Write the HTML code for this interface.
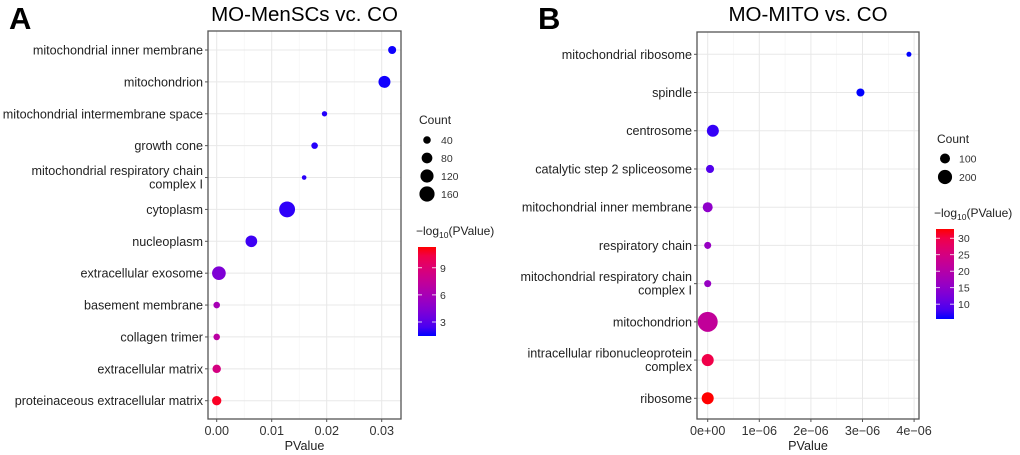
<!DOCTYPE html>
<html><head><meta charset="utf-8">
<style>
body{margin:0;background:#fff;}
svg{display:block;font-family:"Liberation Sans",Arial,sans-serif;}
</style></head>
<body>
<svg id="fig" width="1020" height="455" viewBox="0 0 1020 455"></svg>
<script>
// ---- Panel A data ----
const catsA = ["mitochondrial inner membrane","mitochondrion","mitochondrial intermembrane space","growth cone","mitochondrial respiratory chain|complex I","cytoplasm","nucleoplasm","extracellular exosome","basement membrane","collagen trimer","extracellular matrix","proteinaceous extracellular matrix"];
const pvalA = [0.0319,0.0305,0.0196,0.0178,0.0159,0.0128,0.0063,0.0004,0.0,0.0,0.0,0.0];
const countA = [45,100,20,30,15,175,95,130,30,30,50,60];
const logpA = [1.5,1.52,1.71,1.75,1.8,1.89,2.2,4.2,6,7,8.5,11];
const xTicksA = [0,0.01,0.02,0.03];
const xTickLabelsA = ["0.00","0.01","0.02","0.03"];
const countLegA = [40,80,120,160];
const cbTicksA = [3,6,9];
// ---- Panel B data ----
const catsB = ["mitochondrial ribosome","spindle","centrosome","catalytic step 2 spliceosome","mitochondrial inner membrane","respiratory chain","mitochondrial respiratory chain|complex I","mitochondrion","intracellular ribonucleoprotein|complex","ribosome"];
const pvalB = [3.9e-6,2.96e-6,1.0e-7,4.5e-8,0,0,0,0,0,0];
const countB = [25,65,145,65,100,50,50,400,145,145];
const logpB = [5.4,5.5,7,9,15,16,16,22,30,33];
const xTicksB = [0,1e-6,2e-6,3e-6,4e-6];
const xTickLabelsB = ["0e+00","1e\u221206","2e\u221206","3e\u221206","4e\u221206"];
const countLegB = [100,200];
const cbTicksB = [10,15,20,25,30];

const NS="http://www.w3.org/2000/svg";
const svg=document.getElementById('fig');
function mk(tag,attrs,parent,text){const e=document.createElementNS(NS,tag);for(const k in attrs)e.setAttribute(k,attrs[k]);if(text!==undefined)e.textContent=text;(parent||svg).appendChild(e);return e;}
function col(t){t=Math.max(0,Math.min(1,t));const r=Math.round(255*Math.pow(t,0.55)),b=Math.round(255*Math.pow(1-t,0.55));return `rgb(${r},0,${b})`;}

function panel(cfg){
  const g=mk('g',{});
  
  
  const L=cfg.box[0],T=cfg.box[1],R=cfg.box[2],B=cfg.box[3];
  const xs=v=>cfg.x0+(v)*cfg.xk;
  const n=cfg.cats.length;
  const ys=i=>cfg.y0+i*(cfg.y1-cfg.y0)/(n-1);
  const rs=c=>cfg.rk*Math.sqrt(c);
  const cs=v=>col((v-cfg.cmin)/(cfg.cmax-cfg.cmin));
  const lt=mk('text',{x:cfg.letterX,y:29,'font-size':31,'font-weight':'bold'},g,cfg.letter);
  
  const tt=mk('text',{x:(L+R)/2,y:21,'font-size':20.5,'text-anchor':'middle'},g,cfg.title);
  
  for(let i=0;i<cfg.ticks.length;i++){
    const x=xs(cfg.ticks[i]);
    mk('line',{x1:x,x2:x,y1:T,y2:B,stroke:'#e8e8e8','stroke-width':1},g);
    if(i<cfg.ticks.length-1){const xm=xs((cfg.ticks[i]+cfg.ticks[i+1])/2);mk('line',{x1:xm,x2:xm,y1:T,y2:B,stroke:'#f3f3f3','stroke-width':0.6},g);}
  }
  for(let i=0;i<n;i++){mk('line',{x1:L,x2:R,y1:ys(i),y2:ys(i),stroke:'#e8e8e8','stroke-width':1},g);}
  for(let i=0;i<n;i++){
    const c=mk('circle',{cx:xs(cfg.p[i]),cy:ys(i),r:rs(cfg.count[i]),fill:cs(cfg.logp[i])},g);
    
    
  }
  mk('rect',{x:L,y:T,width:R-L,height:B-T,fill:'none',stroke:'#555','stroke-width':1.3},g);
  for(let i=0;i<n;i++){
    const y=ys(i);
    mk('line',{x1:L-3,x2:L,y1:y,y2:y,stroke:'#555'},g);
    const parts=cfg.cats[i].split('|');
    parts.forEach((p,j)=>{
      const yy=y+4.5+(parts.length>1?(j*13.5-7):0);
      const t=mk('text',{x:L-5,y:yy,'font-size':12.6,'text-anchor':'end',fill:'#222'},g,p);
      
    });
  }
  cfg.ticks.forEach((v,i)=>{
    const x=xs(v);
    mk('line',{x1:x,x2:x,y1:B,y2:B+3,stroke:'#555'},g);
    const t=mk('text',{x:x,y:B+16,'font-size':12.6,'text-anchor':'middle',fill:'#333'},g,cfg.tickLabels[i]);
    
  });
  const xt=mk('text',{x:(L+R)/2,y:B+31,'font-size':12.6,'text-anchor':'middle',fill:'#222'},g,'PValue');
  
  const lg=cfg.leg;
  const ct=mk('text',{x:lg.x,y:lg.ty,'font-size':12,fill:'#222'},g,'Count');
  
  cfg.countLeg.forEach((c,i)=>{
    const y=lg.y0+i*lg.dy;
    const e=mk('circle',{cx:lg.x+8,cy:y,r:rs(c),fill:'#000'},g);
    
    mk('text',{x:lg.x+22,y:y+4,'font-size':10.5,fill:'#333'},g,String(c));
  });
  const cb=cfg.cb;
  const ctt=mk('text',{x:cb.x-2,y:cb.top-12,'font-size':12,fill:'#222'},g);
  
  ctt.innerHTML='\u2212log<tspan font-size="8.5" dy="3">10</tspan><tspan dy="-3">(PValue)</tspan>';
  const gid='grad'+cfg.letter;
  const defs=mk('defs',{},g);
  const lgd=mk('linearGradient',{id:gid,x1:0,y1:1,x2:0,y2:0},defs);
  for(let s=0;s<=10;s++){mk('stop',{offset:s/10,'stop-color':col(s/10)},lgd);}
  const bar=mk('rect',{x:cb.x,y:cb.top,width:18,height:cb.bot-cb.top,fill:`url(#${gid})`},g);
  
  const cy=v=>cb.bot-(v-cfg.cmin)/(cfg.cmax-cfg.cmin)*(cb.bot-cb.top);
  cfg.cbTicks.forEach(v=>{
    const y=cy(v);
    mk('line',{x1:cb.x,x2:cb.x+4,y1:y,y2:y,stroke:'#fff','stroke-width':0.8},g);
    mk('line',{x1:cb.x+14,x2:cb.x+18,y1:y,y2:y,stroke:'#fff','stroke-width':0.8},g);
    mk('text',{x:cb.x+22,y:y+4,'font-size':10.5,fill:'#333'},g,String(v));
  });
}

panel({name:'panel-a',letter:'A',letterX:9,title:'MO-MenSCs vc. CO',box:[208,31,401,419],
  x0:216.7,xk:5500,y0:50,y1:400.7,rk:0.6,cmin:1.45,cmax:11.3,
  cats:catsA,p:pvalA,count:countA,logp:logpA,ticks:xTicksA,tickLabels:xTickLabelsA,
  countLeg:countLegA,cbTicks:cbTicksA,leg:{x:419,ty:124,y0:140,dy:18},cb:{x:418,top:247,bot:336}});
panel({name:'panel-b',letter:'B',letterX:538,title:'MO-MITO vs. CO',box:[697,32,919,419],
  x0:707.7,xk:51.6e6,y0:54.3,y1:398.3,rk:0.5,cmin:5.5,cmax:32.8,
  cats:catsB,p:pvalB,count:countB,logp:logpB,ticks:xTicksB,tickLabels:xTickLabelsB,
  countLeg:countLegB,cbTicks:cbTicksB,leg:{x:937,ty:143,y0:158.5,dy:18.5},cb:{x:936,top:229,bot:319}});
</script>
</body></html>
